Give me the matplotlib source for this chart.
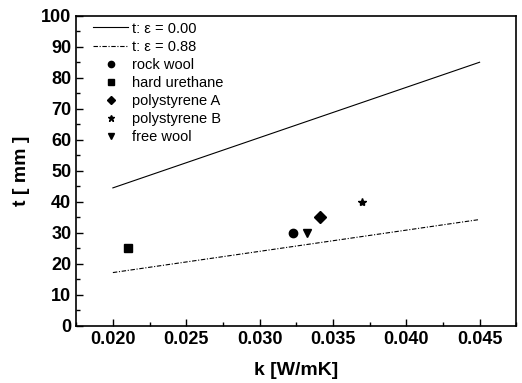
import matplotlib
matplotlib.use("Agg")
import matplotlib.pyplot as plt
from matplotlib.ticker import MultipleLocator

plt.rcParams["font.family"] = ["Liberation Sans", "DejaVu Sans"]

# model lines (endpoints)
line_k = [0.020, 0.045]
t_eps000 = [44.5, 85.0]
t_eps088 = [17.2, 34.3]

# measured insulation samples
materials = ["rock wool", "hard urethane", "polystyrene A", "polystyrene B", "free wool"]
mat_k = [0.0323, 0.0210, 0.0341, 0.0370, 0.0332]
mat_t = [30, 25, 35, 40, 30]
markers = ["o", "s", "D", "*", "v"]
sizes = [6, 6, 6, 6, 6]

xticks = [0.020, 0.025, 0.030, 0.035, 0.040, 0.045]
yticks = list(range(0, 101, 10))

fig = plt.figure(figsize=(5.22, 3.83), dpi=100)
ax = fig.add_axes([0.146, 0.149, 0.843, 0.81])

ax.plot(line_k, t_eps000, color="black", lw=0.8, label="t: ε = 0.00")
ax.plot(line_k, t_eps088, color="black", lw=0.8, ls=(0, (4, 1.5, 1, 1.5)),
        label="t: ε = 0.88")
for name, k, t, m, s in zip(materials, mat_k, mat_t, markers, sizes):
    ax.plot([k], [t], ls="none", marker=m, color="black", ms=s, label=name)

ax.set_xlim(0.0175, 0.0475)
ax.set_ylim(0, 100)
ax.set_xticks(xticks)
ax.set_xticklabels([f"{v:.3f}" for v in xticks])
ax.set_yticks(yticks)
ax.xaxis.set_minor_locator(MultipleLocator(0.0025))
ax.yaxis.set_minor_locator(MultipleLocator(5))
ax.tick_params(which="both", direction="in", top=False, right=False,
               labelsize=13, width=1)
ax.tick_params(which="major", length=5)
ax.tick_params(which="minor", length=3)
for lab in ax.get_xticklabels() + ax.get_yticklabels():
    lab.set_fontweight("bold")
for sp in ax.spines.values():
    sp.set_linewidth(1.2)

ax.set_xlabel("k [W/mK]", fontsize=14, fontweight="bold", labelpad=10)
ax.set_ylabel("t [ mm ]", fontsize=14, fontweight="bold", labelpad=8)

ax.legend(loc="upper left", bbox_to_anchor=(0.025, 1.0), frameon=False,
          fontsize=10.5, handlelength=2.4, labelspacing=0.28, borderpad=0.2,
          borderaxespad=0.2, handletextpad=0.3, markerscale=0.75)

fig.savefig("out.png", dpi=100)
